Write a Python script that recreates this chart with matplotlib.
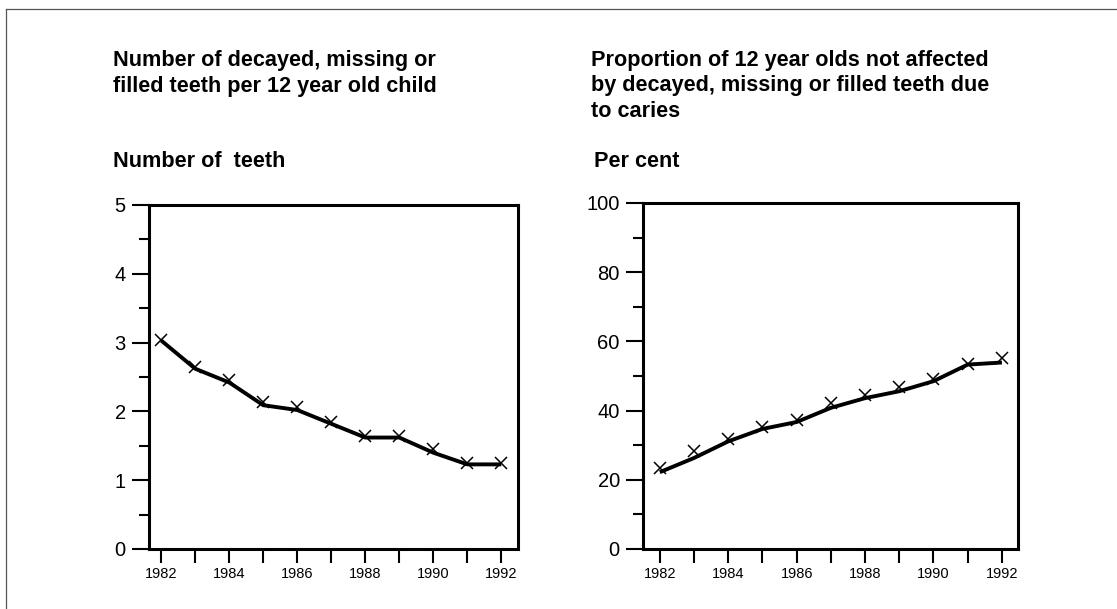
import matplotlib
matplotlib.use("Agg")
import matplotlib.pyplot as plt
from matplotlib.lines import Line2D
from matplotlib.ticker import MultipleLocator

plt.rcParams['font.family'] = ['Liberation Sans', 'DejaVu Sans']

# ---- data ----
years = [1982, 1983, 1984, 1985, 1986, 1987, 1988, 1989, 1990, 1991, 1992]
year_labels = ['1982', '1984', '1986', '1988', '1990', '1992']

dmft_line = [3.03, 2.62, 2.42, 2.09, 2.02, 1.82, 1.62, 1.62, 1.40, 1.23, 1.23]
dmft_marks = [3.04, 2.64, 2.45, 2.14, 2.07, 1.84, 1.64, 1.64, 1.45, 1.25, 1.25]

free_line = [22.2, 26.3, 31.1, 34.7, 36.7, 40.8, 43.6, 45.6, 48.5, 53.3, 53.9]
free_marks = [23.4, 28.2, 31.8, 35.3, 37.4, 42.2, 44.4, 46.8, 49.1, 53.6, 55.2]

left_title = ["Number of decayed, missing or",
              "filled teeth per 12 year old child"]
right_title = ["Proportion of 12 year olds not affected",
               "by decayed, missing or filled teeth due",
               "to caries"]
left_ylabel = "Number of  teeth"
right_ylabel = "Per cent"

W, H = 1117, 609
fig = plt.figure(figsize=(W / 100, H / 100), dpi=100)
fig.patch.set_facecolor('white')


def px(x, y):
    return x / W, 1 - y / H


def make_axes(rect, xlim, ylim, major, minor, xs, line, marks):
    ax = fig.add_axes(rect)
    ax.plot(xs, line, color='black', lw=2.8, solid_joinstyle='round',
            solid_capstyle='butt', zorder=3)
    ax.plot(xs, marks, ls='none', marker='x', ms=9, mew=1.1,
            color='black', zorder=4)
    ax.set_xlim(*xlim)
    ax.set_ylim(*ylim)
    ax.set_xticks(years)
    ax.set_xticklabels([str(y) if str(y) in year_labels else '' for y in years])
    ax.yaxis.set_major_locator(MultipleLocator(major))
    ax.yaxis.set_minor_locator(MultipleLocator(minor))
    for s in ax.spines.values():
        s.set_linewidth(2.2)
    ax.tick_params(axis='y', which='major', length=12.2, width=1.5,
                   labelsize=14.5, pad=4.5, direction='out')
    ax.tick_params(axis='y', which='minor', length=7, width=1.5,
                   direction='out')
    ax.tick_params(axis='x', which='major', length=10, width=1.5,
                   labelsize=10.5, pad=3, direction='out')
    return ax


# left panel: axes spans x 149..518, y 205..549 px
l0, b0 = px(149, 549)
ax1 = make_axes([l0, b0, 369 / W, 344 / H], (1981.64, 1992.49), (0, 5),
                1, 0.5, years, dmft_line, dmft_marks)

# right panel: axes spans x 643..1018, y 203..549 px
l1, b1 = px(643, 549)
ax2 = make_axes([l1, b1, 375 / W, 346 / H], (1981.51, 1992.47), (0, 100),
                20, 10, years, free_line, free_marks)

# titles
tkw = dict(fontsize=15.6, fontweight='bold', va='baseline', ha='left')
for i, t in enumerate(left_title):
    fig.text(*px(113, 66 + 26 * i), t, **tkw)
for i, t in enumerate(right_title):
    fig.text(*px(591, 66 + 25.5 * i), t, **tkw)
fig.text(*px(113, 167), left_ylabel, **tkw)
fig.text(*px(594, 167), right_ylabel, **tkw)

# frame lines (top and left)
x0, y0 = px(6, 9)
fig.add_artist(Line2D([x0, 1.0], [y0, y0], transform=fig.transFigure,
                      color='#555555', lw=0.9))
fig.add_artist(Line2D([x0, x0], [0, y0], transform=fig.transFigure,
                      color='#555555', lw=0.9))

fig.savefig('out.png', dpi=100, facecolor='white')
